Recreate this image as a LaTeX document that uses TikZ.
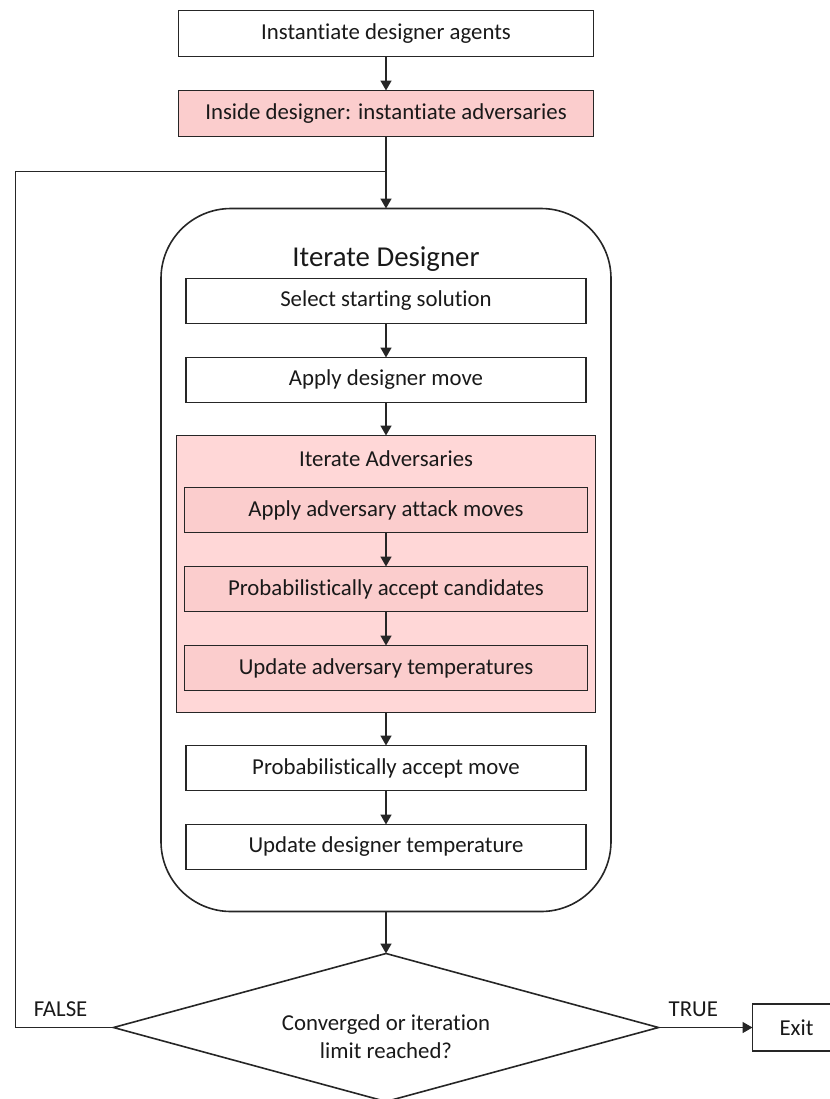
\documentclass[tikz,border=0pt]{standalone}
\usepackage{fontspec}
\setmainfont{Carlito}[Ligatures=NoCommon]
\usetikzlibrary{positioning,fit,backgrounds,shapes.geometric,arrows.meta}
\definecolor{advpink}{HTML}{FFD7D7}
\definecolor{boxpink}{HTML}{FBCDCD}

\begin{document}
\begin{tikzpicture}[x=0.5pt, y=-0.5pt, node distance=17pt,
  font=\fontsize{11.4}{14}\selectfont,
  every node/.style={line width=0.8pt, outer sep=0pt, draw=black!85, text=black!90},
  stepbox/.style={draw, fill=white, minimum width=207.5pt, minimum height=23pt, inner sep=2pt},
  innerbox/.style={stepbox, minimum width=200pt, minimum height=22.5pt},
  advbox/.style={innerbox, fill=boxpink, minimum width=201.5pt},
  flow/.style={-{Triangle[length=5pt,width=5.5pt]}, line width=0.8pt, draw=black!85}]
\useasboundingbox (0,0) rectangle (830,1099);
\node[stepbox] (agents) at (386,33.5) {Instantiate designer agents};
\node[stepbox, fill=boxpink, below=of agents] (inside) {Inside designer: instantiate adversaries};
\node[innerbox, below=71pt of inside] (select) {Select starting solution};
\node[innerbox, below=of select] (apply) {Apply designer move};
\node[advbox, below=42.5pt of apply] (attack) {Apply adversary attack moves};
\node[advbox, below=of attack] (accept) {Probabilistically accept candidates};
\node[advbox, below=of accept] (advtemp) {Update adversary temperatures};
\node[innerbox, below=27.5pt of advtemp] (acceptmove) {Probabilistically accept move};
\node[innerbox, below=of acceptmove] (destemp) {Update designer temperature};
% margins of the two groups
\coordinate (advtop) at ([yshift=26pt]attack.north);
\coordinate (advbot) at ([yshift=-11pt]advtemp.south);
\coordinate (destop) at ([yshift=35pt]select.north);
\coordinate (desbot) at ([yshift=-21pt]destemp.south);
\begin{scope}[on background layer]
  \node[draw, fill=advpink, inner xsep=4pt, inner ysep=0pt,
    fit=(attack)(advtemp)(advtop)(advbot)] (advgroup) {};
  \node[draw, rounded corners=35pt, inner xsep=12.5pt, inner ysep=0pt,
    fit=(select)(destemp)(destop)(desbot)] (desgroup) {};
\end{scope}
\node[draw=none, font=\fontsize{14.4}{17}\selectfont] (destitle) at ([yshift=-25.5pt]desgroup.north) {Iterate Designer};
\node[draw=none] (advtitle) at ([yshift=-11.5pt]advgroup.north) {Iterate Adversaries};
\node[draw, diamond, aspect=3.7, minimum width=272.5pt, minimum height=74pt, inner sep=0pt,
  below=21pt of desgroup] (cond)
  {\raisebox{-8.4pt}[0pt][0pt]{\begin{tabular}{@{}c@{}}Converged or iteration\\limit reached?\end{tabular}}};
\node[draw, minimum width=50pt, minimum height=23.5pt, anchor=west] (exit) at ([xshift=47pt]cond.east) {\hspace*{-6pt}Exit};
\coordinate (join) at ([yshift=-17.5pt]inside.south);
\draw[flow] (agents) -- (inside);
\draw[flow] (inside) -- (desgroup);
\draw[flow] (select) -- (apply);
\draw[flow] (apply) -- (advgroup);
\draw[flow] (attack) -- (accept);
\draw[flow] (accept) -- (advtemp);
\draw[flow] (advgroup) -- (acceptmove);
\draw[flow] (acceptmove) -- (destemp);
\draw[flow] (desgroup) -- (cond);
\draw[flow] (cond) -- node[draw=none, above=2pt, pos=.37] (truelabel) {TRUE} (exit);
\draw[line width=0.8pt, draw=black!85] (cond.west) -- node[draw=none, above=2pt, pos=.54] (falselabel) {FALSE} ++(-49pt,0) |- (join);
\end{tikzpicture}
\end{document}
